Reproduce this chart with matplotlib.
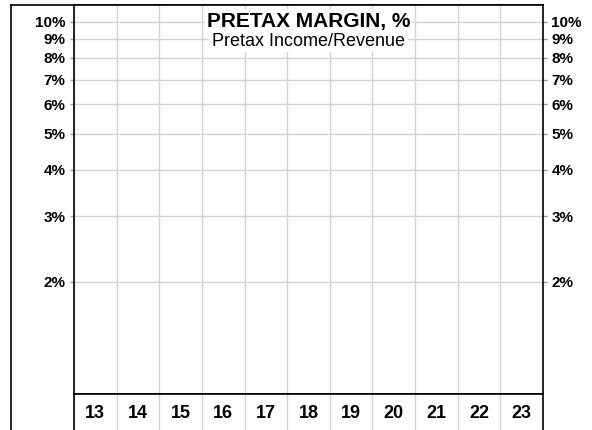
import numpy as np
import matplotlib
matplotlib.use('Agg')
import matplotlib.pyplot as plt
import matplotlib.transforms as mtransforms

plt.rcParams['font.family'] = ['Liberation Sans', 'DejaVu Sans']

years = ['13', '14', '15', '16', '17', '18', '19', '20', '21', '22', '23']
pct_ticks = [2, 3, 4, 5, 6, 7, 8, 9, 10]
pct_labels = ['%d%%' % v for v in pct_ticks]
title = 'PRETAX MARGIN, %'
subtitle = 'Pretax Income/Revenue'

W, H = 592, 430
fig = plt.figure(figsize=(W / 100, H / 100), dpi=100)

x0, x1 = 74, 543
ytop, ystrip = 5, 394
grid_c = '#d4d4d4'

# outer frame (left + top only)
frame = fig.add_axes([11 / W, 0, (x1 - 11) / W, 1 - ytop / H])
frame.set_xticks([])
frame.set_yticks([])
frame.spines['bottom'].set_visible(False)
frame.spines['right'].set_visible(False)
for s in frame.spines.values():
    s.set_linewidth(1.2)

# main log panel
ax = fig.add_axes([x0 / W, 1 - ystrip / H, (x1 - x0) / W, (ystrip - ytop) / H])
ax.set_yscale('log')
ax.set_ylim(1, 11.1)
ax.set_xlim(-0.5, len(years) - 0.5)
ax.set_yticks(pct_ticks)
ax.set_yticklabels(pct_labels, fontsize=11, fontweight='bold')
ax.yaxis.set_minor_locator(matplotlib.ticker.NullLocator())
ax.tick_params(axis='y', which='major', length=3, width=1, color='#999999',
               left=True, right=True, labelleft=True, labelright=True, pad=3)
ax.set_xticks(np.arange(len(years) + 1) - 0.5, minor=True)
ax.set_xticks([])
ax.tick_params(axis='x', which='minor', length=0)
ax.grid(True, axis='y', which='major', color=grid_c, linewidth=1)
ax.grid(True, axis='x', which='minor', color=grid_c, linewidth=1)
for s in ax.spines.values():
    s.set_linewidth(1.2)
    s.set_zorder(5)

ax.text(0.5, 1 - 16 / (ystrip - ytop), title, transform=ax.transAxes,
        ha='center', va='center', fontsize=15, fontweight='bold',
        bbox=dict(facecolor='white', edgecolor='none', pad=1.5), zorder=4)
ax.text(0.5, 1 - 36 / (ystrip - ytop), subtitle, transform=ax.transAxes,
        ha='center', va='center', fontsize=13,
        bbox=dict(facecolor='white', edgecolor='none', pad=2), zorder=4)

# year strip
ax2 = fig.add_axes([x0 / W, 0, (x1 - x0) / W, (H - ystrip) / H])
ax2.set_xlim(-0.5, len(years) - 0.5)
ax2.set_ylim(0, 1)
ax2.set_xticks(np.arange(len(years) + 1) - 0.5, minor=True)
ax2.set_xticks([])
ax2.set_yticks([])
ax2.tick_params(axis='x', which='minor', length=0)
ax2.grid(True, axis='x', which='minor', color=grid_c, linewidth=1)
ax2.spines['bottom'].set_visible(False)
for s in ax2.spines.values():
    s.set_linewidth(1.2)
    s.set_zorder(5)
trans = mtransforms.blended_transform_factory(ax2.transData, ax2.transAxes)
for i, yr in enumerate(years):
    ax2.text(i, 0.47, yr, transform=trans, ha='center', va='center',
             fontsize=13, fontweight='bold')

fig.savefig('out.png', dpi=100)
